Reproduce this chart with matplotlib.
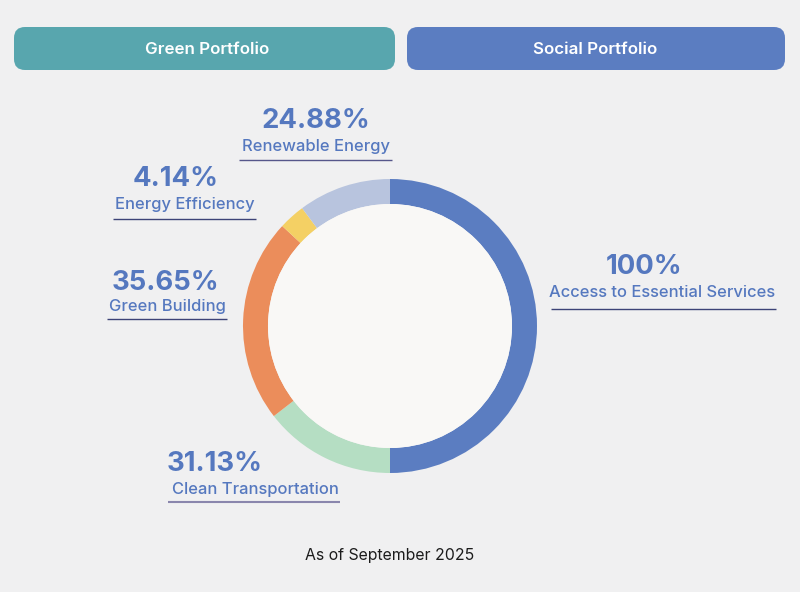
import matplotlib
matplotlib.use("Agg")
import matplotlib.pyplot as plt
from matplotlib.patches import FancyBboxPatch, Circle

plt.rcParams['font.family'] = ['Inter', 'DejaVu Sans']

# ring shares as drawn, clockwise from 12 o'clock
ring_names = ["Access to Essential Services", "Clean Transportation", "Green Building",
              "Energy Efficiency", "Renewable Energy"]
ring_shares = [50.0, 14.5, 22.4, 2.9, 10.2]
ring_colors = ["#5b7dc1", "#b5dec3", "#eb8d5b", "#f4d064", "#b8c4de"]

# printed labels
label_pcts = ["100%", "31.13%", "35.65%", "4.14%", "24.88%"]
headers = ["Green Portfolio", "Social Portfolio"]
footer = "As of September 2025"

BG = "#f0f0f1"
TEXT_BLUE = "#5578bf"

fig = plt.figure(figsize=(8, 5.92), dpi=100, facecolor=BG)

# full figure axes in pixel coords
ax = fig.add_axes([0, 0, 1, 1])
ax.set_xlim(0, 800)
ax.set_ylim(592, 0)
ax.axis("off")

# header buttons
header_boxes = [(14, 27, 381, 43, "#58a6ae", 207), (407, 27, 378, 43, "#5b7dc1", 595)]
for name, (x, y, w, h, col, tx) in zip(headers, header_boxes):
    ax.add_patch(FancyBboxPatch((x + 11, y + 11), w - 22, h - 22,
                                boxstyle="round,pad=11,rounding_size=11",
                                fc=col, ec="none"))
    ax.text(tx, y + h / 2, name, color="white", fontsize=12.2, fontweight="semibold",
            ha="center", va="center_baseline")

# donut, pie radius 1 = 147 px
cx, cy, r = 390, 326, 147
half = r * 1.25
pie_ax = fig.add_axes([(cx - half) / 800, 1 - (cy + half) / 592, 2 * half / 800, 2 * half / 592])
pie_ax.pie(ring_shares, colors=ring_colors, startangle=90, counterclock=False,
           wedgeprops={"width": 25 / r, "linewidth": 0})
pie_ax.add_patch(Circle((0, 0), 122 / r, fc="#f9f8f6", ec="none"))
pie_ax.patch.set_alpha(0)

# label layout: pct centre x, pct y, name centre x, name y, rule x0, x1, rule y, rule colour, rule width
layout = [
    (644, 264, 662, 291, 551, 776, 309, "#3d4377", 1.0),
    (215, 461, 255, 488, 168, 340, 501.5, "#8a86ad", 1.5),
    (165, 280, 167, 305, 107, 227, 319, "#3d4377", 1.0),
    (176, 176, 185, 203, 113, 256, 219, "#3d4377", 1.0),
    (316, 118, 316, 145, 239, 392, 159.5, "#55568a", 1.0),
]
for pct, name, (px, py, nx, ny, x0, x1, ly, lc, lw) in zip(label_pcts, ring_names, layout):
    ax.text(px, py, pct, color=TEXT_BLUE, fontsize=19.8, fontweight="bold",
            ha="center", va="center_baseline")
    ax.text(nx, ny, name, color=TEXT_BLUE, fontsize=11.9, fontweight="medium",
            ha="center", va="center_baseline")
    ax.plot([x0, x1], [ly, ly], color=lc, lw=lw, solid_capstyle="butt")

ax.text(390, 554, footer, color="#1c1c1c", fontsize=11.4, ha="center", va="center_baseline")

fig.savefig("out.png", dpi=100, facecolor=BG)
